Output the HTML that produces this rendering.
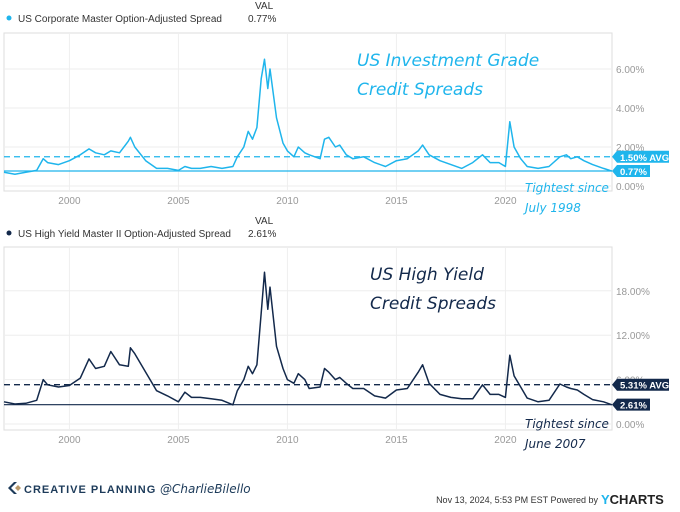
<!DOCTYPE html>
<html><head><meta charset="utf-8">
<style>
body{margin:0;background:#fff;width:680px;height:507px;overflow:hidden;font-family:"Liberation Sans",sans-serif}
svg text{font-family:"Liberation Sans",sans-serif}
.hand{font-family:"DejaVu Sans",sans-serif;font-style:italic}
</style></head>
<body>
<svg id="chart" width="680" height="507">
</svg>
<script>
const igYears=[1997.0,1997.5,1998.0,1998.5,1998.8,1999.0,1999.5,2000.0,2000.5,2000.9,2001.2,2001.6,2001.9,2002.3,2002.7,2002.8,2003.0,2003.5,2004.0,2004.5,2005.0,2005.3,2005.6,2006.0,2006.5,2007.0,2007.5,2007.7,2008.0,2008.2,2008.4,2008.6,2008.8,2008.95,2009.1,2009.2,2009.5,2009.8,2010.0,2010.3,2010.5,2010.8,2011.0,2011.5,2011.7,2011.9,2012.2,2012.4,2012.7,2013.0,2013.5,2014.0,2014.5,2015.0,2015.5,2016.0,2016.2,2016.5,2017.0,2017.5,2018.0,2018.5,2018.95,2019.3,2019.7,2020.0,2020.2,2020.4,2020.7,2021.0,2021.5,2022.0,2022.5,2022.8,2023.0,2023.3,2023.6,2024.0,2024.5,2024.87];
const igValues=[0.7,0.6,0.7,0.8,1.4,1.2,1.1,1.3,1.6,1.9,1.7,1.6,1.8,1.7,2.3,2.5,2.0,1.3,0.9,0.9,0.8,1.0,0.9,0.9,1.0,0.9,1.0,1.5,2.0,2.8,2.4,3.0,5.5,6.5,5.0,6.0,3.5,2.2,1.8,1.5,2.0,1.7,1.6,1.4,2.4,2.5,2.0,2.1,1.6,1.4,1.5,1.2,1.0,1.3,1.4,1.8,2.1,1.6,1.3,1.1,0.9,1.2,1.6,1.2,1.2,1.0,3.3,2.0,1.4,1.0,0.9,1.0,1.5,1.6,1.4,1.5,1.3,1.1,0.9,0.77];
const hyYears=igYears.slice();
const hyValues=[3.0,2.7,2.8,3.2,6.0,5.3,5.0,5.2,6.2,8.8,7.5,7.8,9.8,8.0,7.8,10.3,9.5,7.0,4.5,3.8,3.0,4.3,3.6,3.6,3.4,3.2,2.6,4.5,6.0,7.8,6.8,8.0,15,20.5,15.5,18.5,10.5,7.5,6.0,5.5,6.8,6.0,4.8,5.0,7.5,7.0,6.0,6.3,5.5,4.8,4.8,3.8,3.5,4.6,4.8,7.0,8.0,5.5,4.0,3.6,3.4,3.4,5.3,4.0,4.0,3.6,9.3,6.5,5.0,3.5,3.0,3.2,5.4,5.0,4.8,4.6,4.0,3.3,3.0,2.61];
const xTickYears=[2000,2005,2010,2015,2020];
const igTicks=[0,2,4,6];
const hyTicks=[0,6,12,18];
const igAvg=1.50, igLast=0.77, hyAvg=5.31, hyLast=2.61;

const NS="http://www.w3.org/2000/svg";
const svg=document.getElementById('chart');
function el(tag,attrs,parent){const e=document.createElementNS(NS,tag);for(const k in attrs)e.setAttribute(k,attrs[k]);(parent||svg).appendChild(e);return e;}
const x=v=>4+(v-1997)*21.8;

function panel(cfg){
  const g=el('g',{});
  
  
  const y=v=>cfg.y0-v*cfg.k;
  const fr=el('rect',{x:4,y:cfg.top,width:608,height:cfg.bot-cfg.top,fill:'none',stroke:'#ddd'},g);
  
  
  cfg.ticks.forEach(t=>{
    const l=el('line',{x1:4,x2:612,y1:y(t),y2:y(t),stroke:'#eee'},g);
    
    
    const tx=el('text',{x:616,y:y(t)+4,'font-size':10,fill:'#999'},g);
    tx.textContent=t.toFixed(2)+'%';
    
    
  });
  xTickYears.forEach(yr=>{
    const l=el('line',{x1:x(yr),x2:x(yr),y1:cfg.top,y2:cfg.bot,stroke:'#eee'},g);
    
    
    const tx=el('text',{x:x(yr),y:cfg.bot+13,'font-size':10,fill:'#999','text-anchor':'middle'},g);
    tx.textContent=yr;
    
    
  });
  const d=cfg.years.map((yr,i)=>(i?'L':'M')+x(yr).toFixed(1)+' '+y(cfg.vals[i]).toFixed(1)).join('');
  const p=el('path',{d:d,fill:'none',stroke:cfg.color,'stroke-width':1.5,'stroke-linejoin':'round'},g);
  
  
  const av=el('line',{x1:4,x2:612,y1:y(cfg.avg),y2:y(cfg.avg),stroke:cfg.color,'stroke-width':1.3,'stroke-dasharray':'6,4'},g);
  
  
  const lv=el('line',{x1:4,x2:612,y1:y(cfg.last),y2:y(cfg.last),stroke:cfg.color,'stroke-width':1.2},g);
  
  
  [[cfg.avg,cfg.avg.toFixed(2)+'% AVG',52,'average-tag'],[cfg.last,cfg.last.toFixed(2)+'%',33,'current-value-tag']].forEach(([v,t,w,n])=>{
    const r=el('path',{d:`M612 ${y(v)}L617 ${y(v)-6}L${617+w} ${y(v)-6}L${617+w} ${y(v)+6}L617 ${y(v)+6}Z`,fill:cfg.color},g);
    
    
    const tx=el('text',{x:620,y:y(v)+4,'font-size':9.5,'font-weight':'bold',fill:'#fff'},g);
    tx.textContent=t;
    
    
  });
  const dot=el('circle',{cx:9,cy:cfg.legY-4,r:2.5,fill:cfg.color},g);
  
  
  const lt=el('text',{x:18,y:cfg.legY,'font-size':10,fill:'#333'},g);
  lt.textContent=cfg.legend;
  
  
  const vh=el('text',{x:255,y:cfg.legY-13,'font-size':10,fill:'#333'},g);
  vh.textContent='VAL';
  
  
  const vv=el('text',{x:248,y:cfg.legY,'font-size':10,fill:'#333'},g);
  vv.textContent=cfg.last.toFixed(2)+'%';
  
  
  cfg.title.forEach((t,i)=>{
    const tx=el('text',{x:cfg.titleX,y:cfg.titleY+i*29,'font-size':17,fill:cfg.color,class:'hand'},g);
    tx.textContent=t;
    
    
  });
  cfg.note.forEach((t,i)=>{
    const tx=el('text',{x:525,y:cfg.noteY+i*20,'font-size':12,fill:cfg.color,class:'hand'},g);
    tx.textContent=t;
    
    
  });
}
panel({name:'investment-grade-panel',years:igYears,vals:igValues,color:'#1fb5ec',top:33,bot:191,y0:186,k:19.5,ticks:igTicks,avg:igAvg,last:igLast,legY:22,legend:'US Corporate Master Option-Adjusted Spread',title:['US Investment Grade','Credit Spreads'],titleX:357,titleY:66,note:['Tightest since','July 1998'],noteY:192});
panel({name:'high-yield-panel',years:hyYears,vals:hyValues,color:'#13294b',top:247,bot:430,y0:424,k:7.4,ticks:hyTicks,avg:hyAvg,last:hyLast,legY:237,legend:'US High Yield Master II Option-Adjusted Spread',title:['US High Yield','Credit Spreads'],titleX:370,titleY:280,note:['Tightest since','June 2007'],noteY:428});

const f=el('g',{});


const logo=el('path',{d:'M14 482L8 488L14 494L17 494L11 488L17 482Z',fill:'#1d3b5a'},f);


const lg2=el('path',{d:'M15 488L18 485L21 488L18 491Z',fill:'#b9996b'},f);


const ft=el('text',{x:24,y:493,'font-size':11,'font-weight':'bold',fill:'#1d3b5a','letter-spacing':'1'},f);
ft.textContent='CREATIVE PLANNING';


const hd=el('text',{x:160,y:493,'font-size':12,fill:'#1d3b5a',class:'hand'},f);
hd.textContent='@CharlieBilello';


const ts=el('text',{x:598,y:503,'font-size':9,fill:'#333','text-anchor':'end'},f);
ts.textContent='Nov 13, 2024, 5:53 PM EST Powered by';


const yc=el('text',{x:601,y:504,'font-size':13,'font-weight':'bold',fill:'#222'},f);
yc.innerHTML='<tspan fill="#1fb5ec">Y</tspan>CHARTS';


</script>
</body></html>
